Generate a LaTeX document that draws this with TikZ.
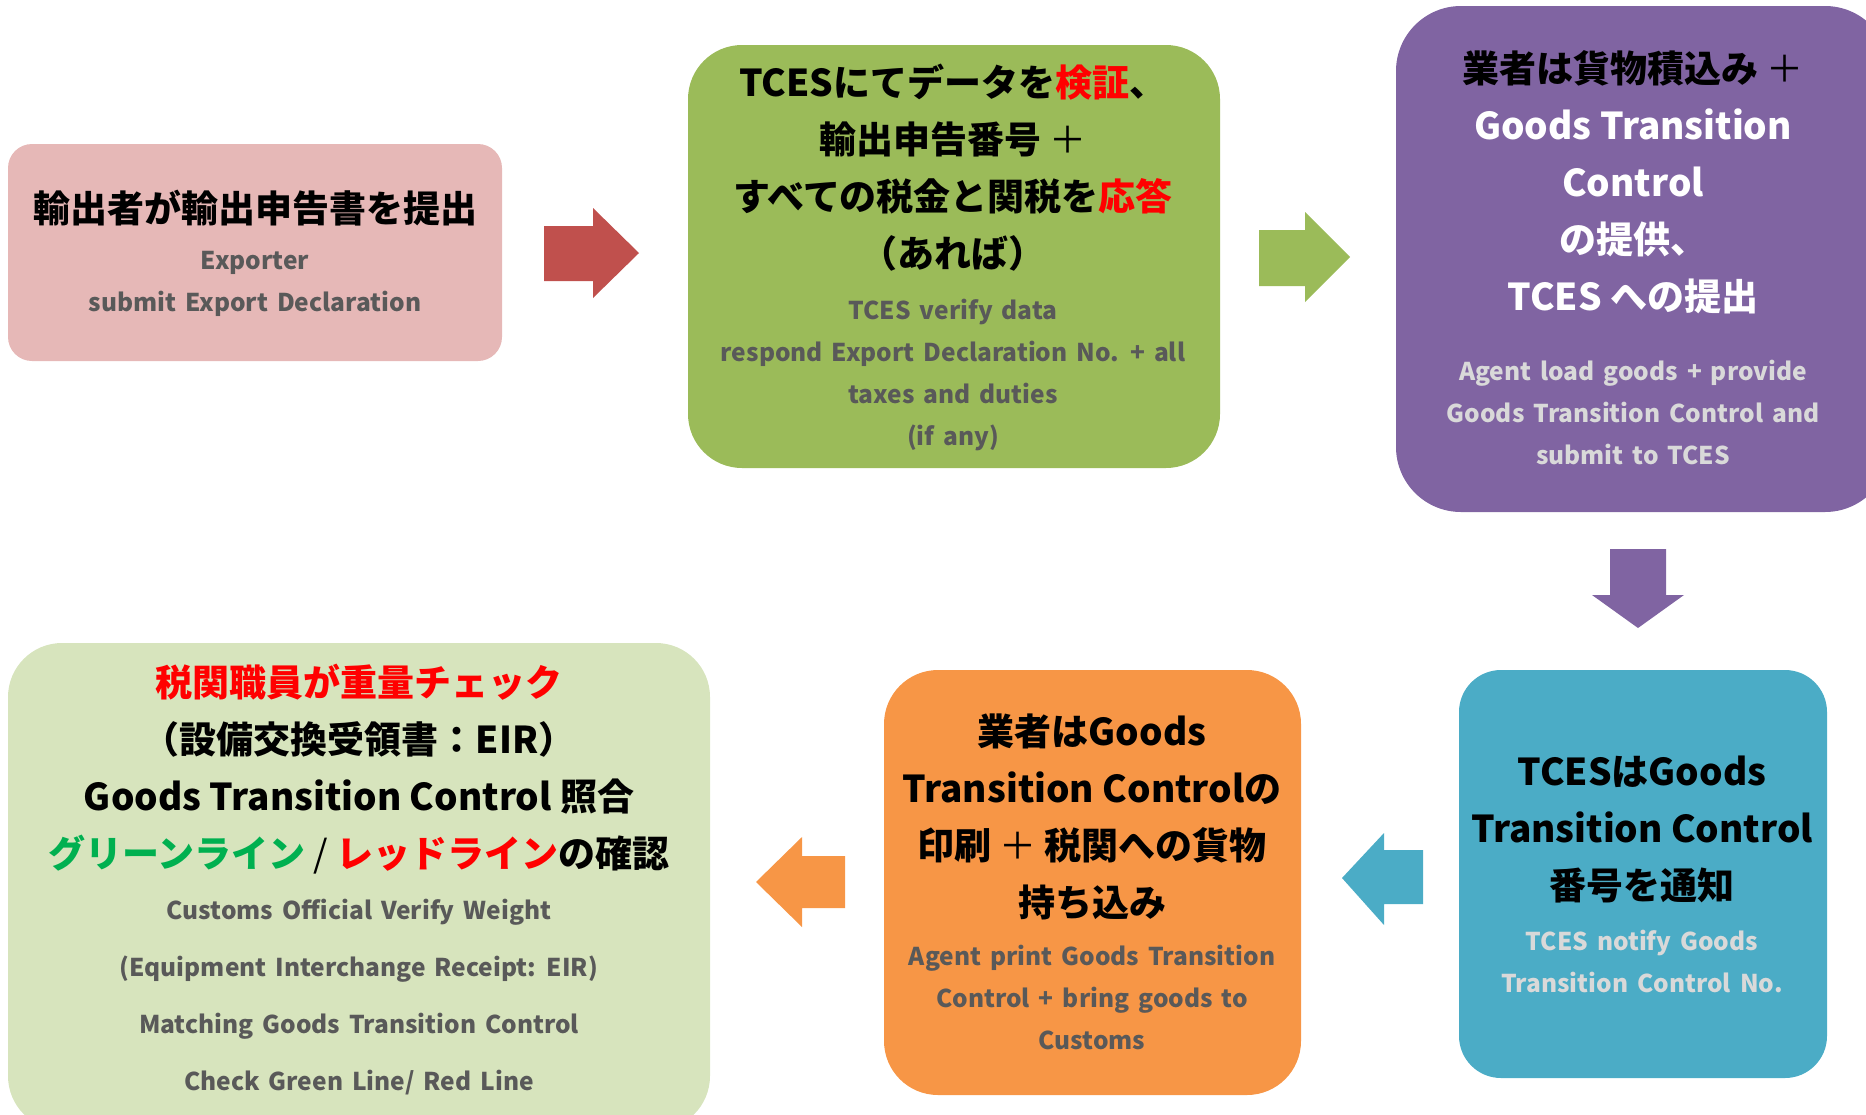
\documentclass[tikz,border=0pt]{standalone}
\usepackage{fontspec}
\setmainfont{Noto Sans CJK JP}
\newfontfamily\enfont{Noto Sans CJK JP}[WordSpace=1.6]
\definecolor{pinkbox}{HTML}{E6B8B7}
\definecolor{redarrow}{HTML}{C0504D}
\definecolor{greenbox}{HTML}{9BBB59}
\definecolor{purplebox}{HTML}{8064A2}
\definecolor{bluebox}{HTML}{4BACC6}
\definecolor{orangebox}{HTML}{F79646}
\definecolor{lightgreenbox}{HTML}{D7E4BD}
\definecolor{txtgray}{HTML}{595959}
\definecolor{txtlight}{HTML}{D9D9D9}
\definecolor{hlred}{HTML}{FF0000}
\definecolor{hlgreen}{HTML}{00B050}
\newcommand\thinplus{{\mdseries ＋}}
\tikzset{
  box/.style={rounded corners=#1, inner sep=0pt, draw=none},
  jp/.style={font=\fontsize{37}{57}\selectfont\bfseries, align=center, inner sep=0pt},
  en/.style={font=\enfont\fontsize{24.5}{42}\selectfont\bfseries, align=center, inner sep=0pt, text=txtgray},
  enwide/.style={font=\enfont\fontsize{24.5}{57}\selectfont\bfseries, align=center, inner sep=0pt, text=txtgray},
}
\begin{document}
\begin{tikzpicture}[x=1pt,y=-1pt]
\useasboundingbox (0,0) rectangle (1866,1114);
\clip (0,0) rectangle (1866,1114);
% boxes
\node[box=24pt, fill=pinkbox, minimum width=494pt, minimum height=217pt] (b1) at (255,252.5) {};
\node[box=54pt, fill=greenbox, minimum width=532pt, minimum height=423pt] (b2) at (954,256.5) {};
\node[box=65pt, fill=purplebox, minimum width=494pt, minimum height=506pt] (b3) at (1643,259) {};
\node[box=42pt, fill=bluebox, minimum width=368pt, minimum height=408pt] (b4) at (1643,874) {};
\node[box=54pt, fill=orangebox, minimum width=417pt, minimum height=425pt] (b5) at (1092.5,882.5) {};
\node[box=54pt, fill=lightgreenbox, minimum width=702pt, minimum height=487pt] (b6) at (359,886.5) {};
% block arrows
\fill[redarrow] (544,226) -- (593,226) -- (593,208) -- (639,253) -- (593,298) -- (593,281) -- (544,281) -- cycle;
\fill[greenbox] (1259,230) -- (1305,230) -- (1305,212) -- (1350,257) -- (1305,302) -- (1305,286) -- (1259,286) -- cycle;
\fill[purplebox] (1610,549) -- (1666,549) -- (1666,595) -- (1684,595) -- (1638,628) -- (1592,595) -- (1610,595) -- cycle;
\fill[bluebox] (1423,850) -- (1384,850) -- (1384,833) -- (1342,878) -- (1384,925) -- (1384,904) -- (1423,904) -- cycle;
\fill[orangebox] (845,856) -- (802,856) -- (802,837) -- (756,882) -- (802,927) -- (802,908) -- (845,908) -- cycle;
% texts
\node[jp] (t1) at (255,208) {輸出者が輸出申告書を提出};
\node[en] (e1) at (255,284) {Exporter\\submit Export Declaration};
\node[jp] (t2) at (953,168) {TCESにてデータを\textcolor{hlred}{検証}、\\輸出申告番号 \thinplus\\すべての税金と関税を\textcolor{hlred}{応答}\\（あれば）};
\node[en] (e2) at (953,374.5) {TCES verify data\\respond Export Declaration No. + all\\taxes and duties\\(if any)};
\node[jp] (t3) at (1633,182.5) {業者は貨物積込み \thinplus\\\textcolor{white}{Goods Transition}\\\textcolor{white}{Control}\\\textcolor{white}{の提供、}\\\textcolor{white}{TCES への提出}};
\node[en, text=txtlight] (e3) at (1633,412) {Agent load goods + provide\\Goods Transition Control and\\submit to TCES};
\node[jp] (t4) at (1642,829) {TCESはGoods\\Transition Control\\番号を通知};
\node[en, text=txtlight] (e4) at (1642,961) {TCES notify Goods\\Transition Control No.};
\node[jp] (t5) at (1092,816.5) {業者はGoods\\Transition Controlの\\印刷 \thinplus{} 税関への貨物\\持ち込み};
\node[en] (e5) at (1092,997.5) {Agent print Goods Transition\\Control + bring goods to\\Customs};
\node[jp] (t6) at (359,769) {\textcolor{hlred}{税関職員が重量チェック}\\（設備交換受領書：EIR）\\Goods Transition Control 照合\\\textcolor{hlgreen}{グリーンライン} {\mdseries /} \textcolor{hlred}{レッドライン}の確認};
\node[enwide] (e6) at (359,997) {Customs Official Verify Weight\\(Equipment Interchange Receipt: EIR)\\Matching Goods Transition Control\\Check Green Line/ Red Line};
\end{tikzpicture}
\end{document}
